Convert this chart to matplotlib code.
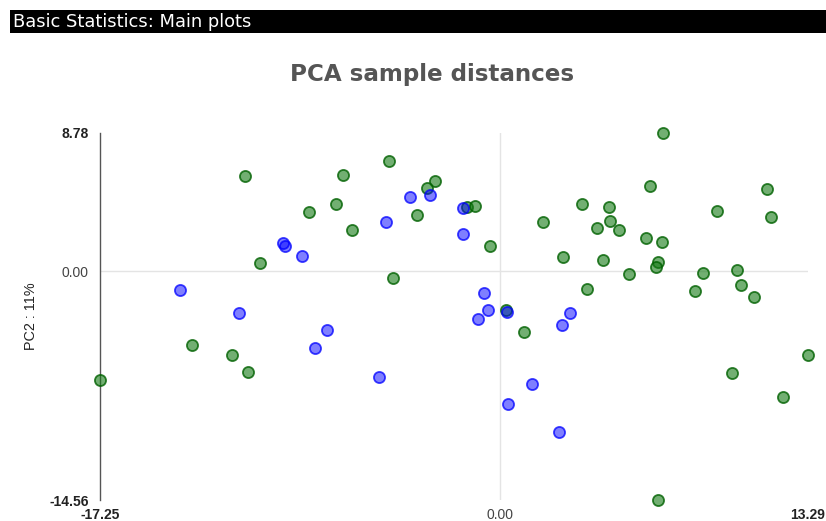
import matplotlib
matplotlib.use("Agg")
import matplotlib.pyplot as plt
from matplotlib.patches import Rectangle

# PCA coordinates (PC1, PC2) for the two sample groups
group_a_pc1 = [-11.00, -10.35, -13.29, -11.56, -10.87, -17.25, -4.79, -6.77, -2.80, -3.15,
               -7.08, -8.24, -3.58, -6.38, -1.42, -1.08, -0.43, -4.62, 0.26, 1.04,
               3.75, 8.41, 10.40, 10.96, 13.29, 10.01, 12.21, 6.82, 7.03, 6.47,
               11.52, 3.54, 4.70, 9.36, 11.69, 4.75, 1.86, 4.18, 5.13, 6.30,
               6.99, 2.72, 4.44, 6.82, 6.73, 5.57, 8.76, 10.22]
group_a_pc2 = [6.04, 0.51, -4.71, -5.34, -6.42, -6.93, 7.00, 6.11, 5.73, 5.28,
               4.26, 3.75, 3.56, 2.61, 4.07, 4.13, 1.59, -0.45, -2.48, -3.88,
               -1.15, -1.27, -0.89, -1.65, -5.34, -6.49, -8.02, -14.56, 8.78, 5.41,
               5.22, 4.26, 4.07, 3.82, 3.44, 3.18, 3.12, 2.74, 2.61, 2.10,
               1.84, 0.89, 0.70, 0.57, 0.25, -0.19, -0.13, 0.06]

group_b_pc1 = [-13.80, -11.26, -3.88, -3.02, -4.92, -1.60, -1.60, -9.36, -9.28, -8.54,
               -0.69, -0.52, -0.95, 0.30, -7.46, -7.98, -5.22, 0.35, 3.02, 2.67,
               1.38, 2.55]
group_b_pc2 = [-1.21, -2.67, 4.71, 4.83, 3.12, 4.01, 2.35, 1.78, 1.59, 0.95,
               -1.40, -2.48, -3.05, -2.61, -3.75, -4.90, -6.74, -8.46, -2.67, -3.44,
               -7.19, -10.24]

x_min, x_max = -17.25, 13.29
y_min, y_max = -14.56, 8.78
y_axis_label = "PC2 : 11%"
chart_title = "PCA sample distances"
header_text = "Basic Statistics: Main plots"

W, H = 826, 521
fig = plt.figure(figsize=(W / 100, H / 100), dpi=100)
fig.patch.set_facecolor("white")

# header bar
fig.patches.append(Rectangle((10 / W, 1 - 33 / H), 1 - 10 / W, 23 / H,
                             transform=fig.transFigure, facecolor="black",
                             edgecolor="none", zorder=0))
fig.text(13 / W, 1 - 22 / H, header_text, color="white", fontsize=12.9,
         family="DejaVu Sans", va="center", ha="left")

fig.text(432 / W, 1 - 75 / H, chart_title, color="#555555", fontsize=16.6,
         family="DejaVu Sans", weight="bold", ha="center", va="center")

ax = fig.add_axes([100 / W, 21 / H, 708 / W, 367 / H])
ax.set_xlim(x_min, x_max)
ax.set_ylim(y_min, y_max)

ax.axhline(0, color="#e4e4e4", lw=1, zorder=0)
ax.axvline(0, color="#e4e4e4", lw=1, zorder=0)

ax.scatter(group_a_pc1, group_a_pc2, s=64, facecolor=(0.08, 0.48, 0.08, 0.6),
           edgecolor=(0, 0.38, 0, 0.8), linewidth=1.3, clip_on=False, zorder=3)
ax.scatter(group_b_pc1, group_b_pc2, s=64, facecolor=(0, 0, 1, 0.5),
           edgecolor=(0, 0, 1, 0.75), linewidth=1.3, clip_on=False, zorder=3)

for side in ("top", "right", "bottom"):
    ax.spines[side].set_visible(False)
ax.spines["left"].set_color("#555555")
ax.spines["left"].set_linewidth(1)

ax.set_xticks([x_min, 0, x_max])
ax.set_xticklabels([f"{x_min:.2f}", "0.00", f"{x_max:.2f}"])
ax.set_yticks([y_min, 0, y_max])
ax.set_yticklabels([f"{y_min:.2f}", "0.00", f"{y_max:.2f}"])
ax.tick_params(axis="x", length=0, pad=5.5, labelsize=10)
ax.tick_params(axis="y", length=0, pad=8, labelsize=10)
for lbls in (ax.get_xticklabels(), ax.get_yticklabels()):
    for i, t in enumerate(lbls):
        t.set_family("Liberation Sans")
        if i == 1:
            t.set_color("#444444")
        else:
            t.set_weight("bold")
            t.set_color("#222222")

ax.set_ylabel(y_axis_label, family="Liberation Sans", fontsize=10.4, color="#222222")
ax.yaxis.set_label_coords(-(100 - 38) / 708, 0.5)

fig.savefig("out.png", dpi=100)
